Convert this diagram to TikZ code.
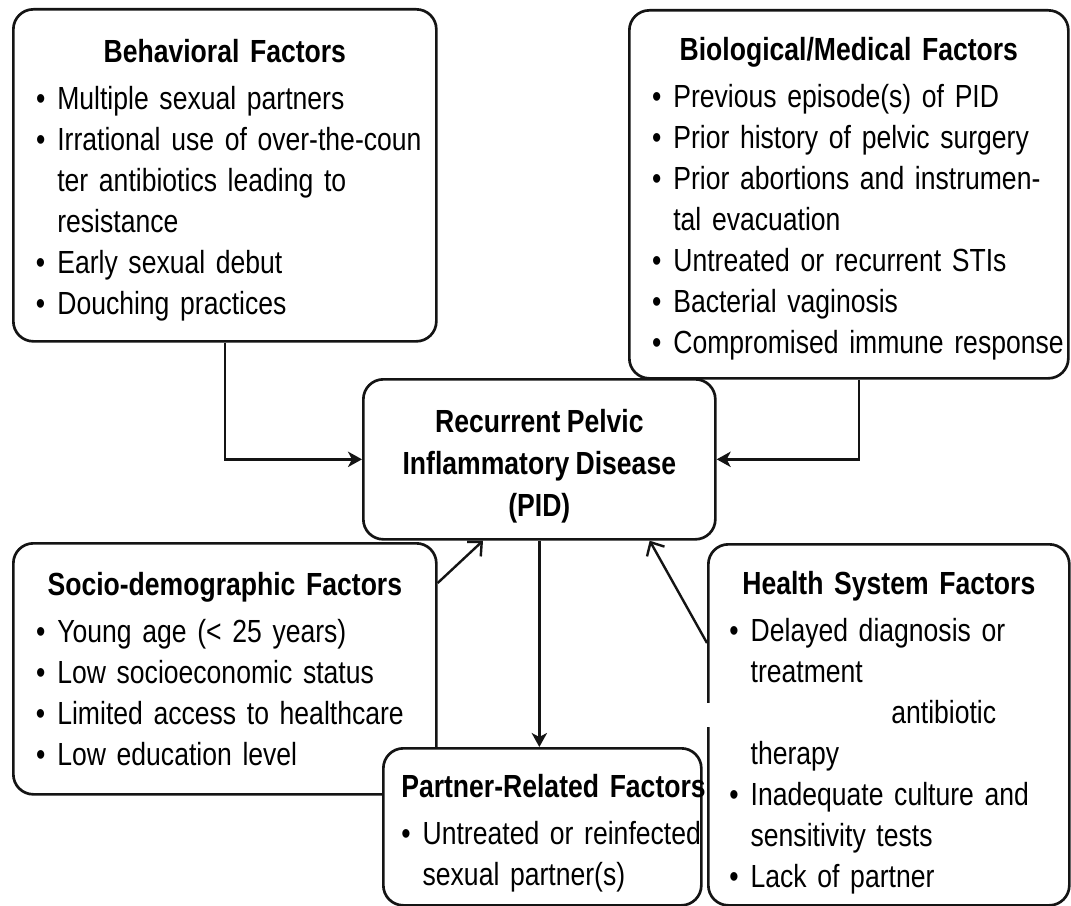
\documentclass[tikz,border=0pt]{standalone}
\usepackage{fontspec}
\setmainfont{Liberation Sans}[FakeStretch=0.83, WordSpace=0.85]
\definecolor{LineBlack}{HTML}{141414}
\usetikzlibrary{arrows.meta,positioning,calc}
\newcommand{\itm}[1]{\makebox[16pt][l]{\textbullet}\mbox{#1}}
\newcommand{\cnt}[1]{\hspace*{16pt}\mbox{#1}}
\newcommand{\ttl}[2][24.7pt]{\makebox[\hsize]{\rule{0pt}{#1}\bfseries #2}\\[4.5pt]}
\tikzset{
  factorbox/.style={draw=LineBlack, line width=2pt, rounded corners=15pt, fill=white, anchor=north west, align=left, inner xsep=17pt, inner ysep=0pt, font=\fontsize{24pt}{30.75pt}\selectfont},
  pidbox/.style={draw=LineBlack, line width=2pt, rounded corners=15pt, fill=white, anchor=north west, align=center, inner sep=0pt, font=\fontsize{24pt}{31.5pt}\selectfont\bfseries},
  arrow/.style={-{Stealth[length=10.5pt,width=11.5pt,inset=3pt]}, line width=1.8pt, draw=LineBlack},
  openarrow/.style={-{Straight Barb[length=8pt,width=15pt]}, line width=1.8pt, draw=LineBlack}
}
\begin{document}
\begin{tikzpicture}[x=0.75pt, y=-0.75pt]
\useasboundingbox[fill=white] (0,0) rectangle (1071,906);

\node[factorbox, minimum width=317.25pt, minimum height=249pt, text width=283.25pt] (beh) at (12,8) {
\ttl{Behavioral Factors}
\itm{Multiple sexual partners}\\
\itm{Irrational use of over-the-coun}\\
\cnt{ter antibiotics leading to}\\
\cnt{resistance}\\
\itm{Early sexual debut}\\
\itm{Douching practices}
};

\node[factorbox, minimum width=329.25pt, minimum height=276pt, text width=295.25pt] (bio) at (628,9) {
\ttl{Biological/Medical Factors}
\itm{Previous episode(s) of PID}\\
\itm{Prior history of pelvic surgery}\\
\itm{Prior abortions and instrumen-}\\
\cnt{tal evacuation}\\
\itm{Untreated or recurrent STIs}\\
\itm{Bacterial vaginosis}\\
\itm{Compromised immune response}
};

\node[pidbox, minimum width=264pt, minimum height=120pt] (pid) at (362,378) {
\rule{0pt}{27pt}Recurrent Pelvic\\
Inflammatory Disease\\
(PID)
};

\node[factorbox, minimum width=317.25pt, minimum height=188.25pt, text width=283.25pt] (soc) at (12,542) {
\ttl[17pt]{Socio-demographic Factors}
\itm{Young age (< 25 years)}\\
\itm{Low socioeconomic status}\\
\itm{Limited access to healthcare}\\
\itm{Low education level}
};

\node[factorbox, inner xsep=13.5pt, minimum width=238.5pt, minimum height=117.75pt, text width=211.5pt] (par) at (382,747) {
\makebox[\hsize][l]{\rule{0pt}{27.7pt}\bfseries Partner-Related Factors}\\[4.5pt]
\itm{Untreated or reinfected}\\
\cnt{sexual partner(s)}
};

\node[factorbox, inner xsep=15.75pt, minimum width=270.75pt, minimum height=270.75pt, text width=239.25pt] (hsf) at (707,543) {
\ttl[29.2pt]{Health System Factors}
\itm{Delayed diagnosis or}\\
\cnt{treatment}\\
\hspace*{121.5pt}\mbox{antibiotic}\\
\cnt{therapy}\\
\itm{Inadequate culture and}\\
\cnt{sensitivity tests}\\
\itm{Lack of partner}
};
\fill[white] (700,703) rectangle (884,727);

\draw[arrow] (beh.south) |- (pid.west);
\draw[arrow] ([xshift=7.5pt]bio.south) |- (pid.east);
\draw[openarrow] ([yshift=-30.75pt]soc.north east) -- ([xshift=90.75pt]pid.south west);
\draw[openarrow] ([yshift=-75pt]hsf.north west) -- ([xshift=-50.25pt]pid.south east);
\draw[arrow] (pid.south) -- (pid.south |- par.north);
\end{tikzpicture}
\end{document}
